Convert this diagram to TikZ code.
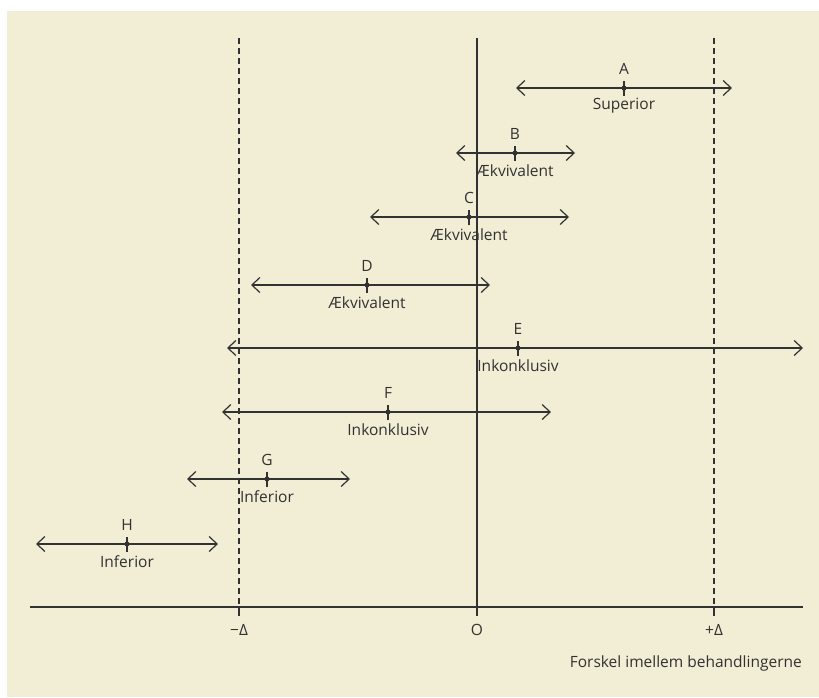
\documentclass[tikz,border=0pt]{standalone}
\usepackage{fontspec}
\setmainfont{Open Sans}
\usetikzlibrary{arrows.meta}
\definecolor{bgc}{RGB}{242,237,213}
\definecolor{ink}{RGB}{50,50,50}
\tikzset{
  lbl/.style={font=\fontsize{15.5}{18}\selectfont, text=ink, inner sep=0pt},
  ci/.style={draw=ink, line width=1.2pt, {Straight Barb[length=8pt,width=15pt]}-{Straight Barb[length=8pt,width=15pt]}},
  refl/.style={draw=ink, line width=1.1pt, dash pattern=on 6pt off 4pt},
  axisl/.style={draw=ink, line width=1.5pt},
  pt/.style={circle, fill=ink, inner sep=0pt, minimum size=5pt},
}
\begin{document}
\begin{tikzpicture}[x=1pt,y=-1pt]
\useasboundingbox (0,0) rectangle (819,697);
\fill[bgc] (7,11) rectangle (819,697);
% reference lines
\coordinate (mdT) at (239,38); \coordinate (mdB) at (239,607);
\coordinate (pdT) at (714,38); \coordinate (pdB) at (714,607);
\coordinate (zT) at (477,38); \coordinate (zB) at (477,607);
\draw[refl] (mdT) -- (mdB);
\draw[refl] (pdT) -- (pdB);
\draw[draw=ink, line width=1.2pt] (zT) -- (zB);
% axis
\coordinate (axL) at (30,607); \coordinate (axR) at (803,607);
\draw[axisl] (axL) -- (axR);
\coordinate (t1) at (239,616); \coordinate (t2) at (477,616); \coordinate (t3) at (714,616);
\draw[draw=ink, line width=1.2pt] (mdB) -- (t1);
\draw[draw=ink, line width=1.2pt] (zB) -- (t2);
\draw[draw=ink, line width=1.2pt] (pdB) -- (t3);
\node[lbl] (lm) at (239,630) {−Δ};
\node[lbl] (l0) at (477,630) {O};
\node[lbl] (lp) at (714,630) {+Δ};
\node[lbl, anchor=east] (xl) at (802,663) {Forskel imellem behandlingerne};
% intervals
\foreach \n/\y/\l/\r/\c/\t in {
  A/88/516/732/624/Superior,
  B/153/456/575/515/Ækvivalent,
  C/217/370/569/469/Ækvivalent,
  D/285/251/490/367/Ækvivalent,
  E/348/227/803/518/Inkonklusiv,
  F/412/222/551/388/Inkonklusiv,
  G/479/187/350/267/Inferior,
  H/544/36/218/127/Inferior}{
  \coordinate (\n L) at (\l,\y);
  \coordinate (\n R) at (\r,\y);
  \node[pt] (\n c) at (\c,\y) {};
  \coordinate (\n u) at (\c,\y-7);
  \coordinate (\n d) at (\c,\y+8);
  \draw[ci] (\n L) -- (\n R);
  \draw[draw=ink, line width=1.2pt] (\n u) -- (\n d);
  \node[lbl] (\n t) at (\c,\y-19) {\n};
  \node[lbl] (\n s) at (\c,\y+18) {\t};
}
\end{tikzpicture}
\end{document}
